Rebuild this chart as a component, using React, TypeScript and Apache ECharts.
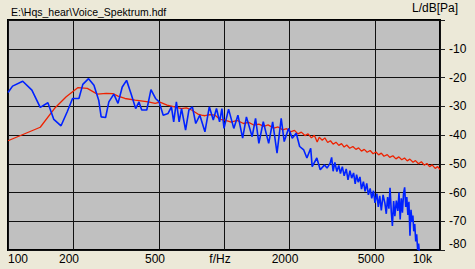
import React, { useEffect, useRef } from 'react';
import * as echarts from 'echarts';

const FONT = '"Liberation Sans", Arial, sans-serif';

const titleText = 'E:\\Hqs_hear\\Voice_Spektrum.hdf';
const yAxisName = 'L/dB[Pa]';
const freqTicks = [100, 200, 500, 1000, 2000, 5000, 10000];
const freqTickLabels = ['100', '200', '500', 'f/Hz', '2000', '5000', '10k'];

// blue: voice spectrum [Hz, dB]
const voiceSpectrum: [number, number][] = [
  [100, -25.2], [105, -23.0], [117, -21.3], [129, -24.4], [141, -30.4], [153, -28.8], [163, -34.6],
  [176, -36.8], [188, -31.9], [199, -27.3], [213, -27.3], [222, -22.4], [236, -20.4], [250, -22.7],
  [263, -27.9], [270, -33.7], [283, -33.9], [293, -28.5], [309, -25.8], [323, -29.0], [338, -23.3],
  [354, -21.0], [371, -25.6], [390, -30.8], [404, -28.5], [416, -31.3], [439, -31.3], [459, -24.2],
  [482, -27.3], [501, -28.5], [523, -33.1], [551, -32.5], [571, -30.2], [585, -35.4], [602, -28.5],
  [620, -35.4], [636, -30.8], [664, -38.3], [688, -31.3], [714, -30.2], [740, -36.0], [773, -33.1],
  [816, -38.9], [855, -30.2], [892, -34.8], [923, -30.8], [954, -35.4], [978, -30.8], [1000, -37.7],
  [1050, -31.0], [1110, -37.7], [1160, -33.1], [1220, -41.1], [1270, -33.7], [1350, -40.6], [1400, -34.2],
  [1450, -42.9], [1520, -35.4], [1610, -42.9], [1680, -35.4], [1760, -46.3], [1840, -34.2], [1900, -42.3],
  [1990, -37.7], [2070, -41.1], [2160, -39.4], [2240, -44.0], [2340, -45.2], [2420, -48.0], [2520, -44.6],
  [2560, -51.0], [2690, -48.0], [2790, -52.1], [2920, -50.4], [3000, -51.5], [3100, -49.8], [3150, -47.8],
  [3200, -52.6], [3260, -49.5], [3330, -52.7], [3400, -50.6], [3460, -53.4], [3530, -51.0], [3600, -54.2],
  [3680, -51.8], [3750, -55.6], [3830, -52.4], [3900, -55.0], [3980, -53.2], [4050, -57.0], [4110, -53.8],
  [4180, -56.4], [4260, -54.6], [4330, -58.8], [4420, -56.2], [4500, -59.6], [4580, -56.8], [4660, -60.8],
  [4750, -58.6], [4830, -62.0], [4920, -59.4], [5000, -63.6], [5100, -60.4], [5180, -65.0], [5260, -61.2],
  [5350, -66.2], [5450, -60.8], [5560, -63.8], [5640, -67.4], [5720, -61.6], [5800, -65.6], [5870, -58.4],
  [5950, -66.8], [6020, -71.6], [6100, -63.0], [6180, -68.2], [6280, -62.8], [6380, -66.4], [6460, -60.0],
  [6540, -69.4], [6620, -62.0], [6700, -67.0], [6780, -60.4], [6860, -58.2], [6940, -65.0], [7020, -61.6],
  [7100, -67.8], [7180, -63.2], [7260, -75.0], [7340, -66.0], [7420, -70.2], [7490, -68.0], [7560, -73.5],
  [7640, -71.0], [7720, -77.0], [7800, -74.5], [7880, -80.0], [7960, -77.8], [8050, -82.0],
];

// red: reference spectrum [Hz, dB]
const refSpectrum: [number, number][] = [
  [100, -42.0], [141, -37.3], [164, -30.8], [186, -26.7], [211, -23.5], [233, -23.8], [259, -25.8],
  [285, -25.5], [306, -25.6], [323, -26.5], [348, -27.3], [388, -27.9], [446, -28.5], [480, -29.0],
  [505, -28.6], [545, -29.6], [590, -30.2], [636, -30.8], [670, -30.6], [708, -31.3], [757, -32.7],
  [787, -33.1], [816, -33.3], [860, -32.9], [909, -33.1], [960, -34.6], [1010, -34.8], [1080, -35.5],
  [1150, -34.9], [1230, -36.0], [1300, -35.6], [1380, -36.6], [1450, -36.2], [1530, -37.0], [1600, -36.5],
  [1700, -37.6], [1780, -37.2], [1870, -38.2], [1950, -37.8], [2030, -38.9], [2120, -38.4], [2200, -39.6],
  [2280, -39.0], [2370, -40.2], [2450, -39.6], [2540, -41.0], [2620, -40.1], [2700, -42.4], [2760, -40.8],
  [2850, -41.8], [2930, -41.0], [3020, -42.6], [3110, -42.0], [3200, -43.2], [3300, -42.5], [3400, -43.6],
  [3500, -43.0], [3600, -44.2], [3700, -43.5], [3820, -44.6], [3950, -44.0], [4080, -45.0], [4200, -44.5],
  [4330, -45.6], [4460, -45.0], [4600, -46.0], [4750, -45.4], [4900, -46.5], [5050, -45.9], [5200, -46.9],
  [5350, -46.3], [5500, -47.4], [5700, -46.8], [5850, -47.8], [6050, -47.2], [6250, -48.3], [6450, -47.6],
  [6650, -48.6], [6850, -48.0], [7050, -49.0], [7250, -48.4], [7500, -49.5], [7700, -48.9], [7950, -50.0],
  [8200, -49.3], [8450, -50.5], [8700, -49.9], [8950, -51.0], [9200, -50.4], [9500, -51.6], [9750, -51.0],
  [10000, -52.0],
];

export default function App() {
  const ref = useRef<HTMLDivElement>(null);
  useEffect(() => {
    if (!ref.current) return;
    const chart = echarts.init(ref.current, undefined, { renderer: 'svg' });
    const last = freqTicks.length - 1;
    chart.setOption({
      animation: false,
      backgroundColor: '#ece9d8',
      textStyle: { fontFamily: FONT },
      title: [
        {
          text: titleText, left: 11, top: 6, padding: 0,
          textStyle: { fontSize: 10.5, fontWeight: 'normal', color: '#000', fontFamily: FONT },
        },
        {
          text: yAxisName, right: 17, top: 2, padding: 0,
          textStyle: { fontSize: 12, fontWeight: 'normal', color: '#000', fontFamily: FONT },
        },
      ],
      grid: {
        left: 8, right: 35, top: 20, bottom: 19, show: true,
        backgroundColor: '#c0c0c0', borderColor: '#000', borderWidth: 2,
      },
      xAxis: {
        type: 'log', logBase: 10, min: 100, max: 10000,
        axisLine: { show: false }, axisTick: { show: false },
        axisLabel: { show: false }, splitLine: { show: false },
      },
      yAxis: {
        type: 'value', position: 'right', min: -80, max: 0, interval: 10,
        axisLine: { show: false },
        axisTick: { show: true, length: 5, lineStyle: { color: '#222', width: 1 } },
        axisLabel: {
          margin: 9, fontSize: 12, color: '#000', fontFamily: FONT,
          formatter: (v: number) => (v === 0 ? '' : String(v)),
          verticalAlignMinLabel: 'bottom',
        },
        splitLine: { show: true, lineStyle: { color: '#111', width: 1 } },
      },
      series: [
        {
          type: 'line', name: 'reference', data: refSpectrum, showSymbol: false, symbol: 'none',
          z: 3, lineStyle: { color: '#ee2200', width: 1.3 }, itemStyle: { color: '#ee2200' },
          markLine: {
            silent: true, symbol: 'none', z: 1, animation: false,
            lineStyle: { color: '#111', width: 1, type: 'solid' },
            label: {
              show: true, position: 'start', distance: 3, color: '#000', fontSize: 12,
              fontFamily: FONT, padding: [0, 8, 0, 0],
            },
            data: freqTicks.map((f, i) => ({
              xAxis: f,
              label: {
                formatter: freqTickLabels[i],
                align: i === 0 ? 'left' : i === last ? 'right' : 'center',
              },
            })),
          },
        },
        {
          type: 'line', name: 'voice', data: voiceSpectrum, showSymbol: false, symbol: 'none',
          z: 4, lineStyle: { color: '#0022ff', width: 1.6 }, itemStyle: { color: '#0022ff' },
        },
      ],
    });
    return () => chart.dispose();
  }, []);
  return (
    <div
      ref={ref}
      style={{ position: 'fixed', left: 0, top: 0, width: 475, height: 269 }}
    />
  );
}
